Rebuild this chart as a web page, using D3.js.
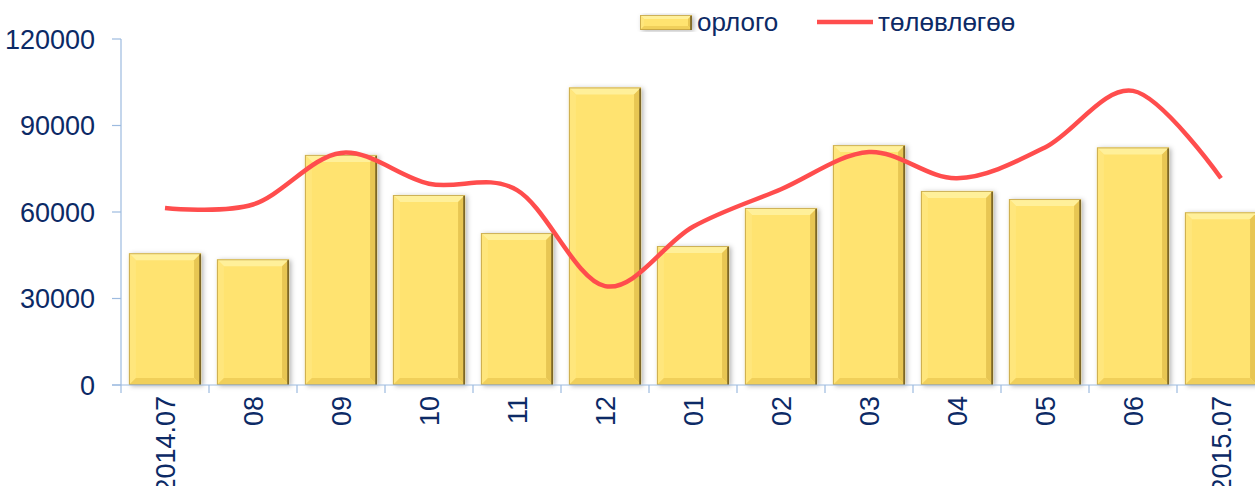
<!DOCTYPE html>
<html>
<head>
<meta charset="utf-8">
<script src="https://cdn.jsdelivr.net/npm/d3@7"></script>
<style>
  html, body { margin: 0; padding: 0; background: #fff; overflow: hidden; }
  svg { display: block; }
  text { font-family: "Liberation Sans", Arial, sans-serif; fill: #0c2a66; }
</style>
</head>
<body>
<svg id="chart" width="1255" height="486"></svg>
<script>
// categories (months)
var months = ['2014.07', '08', '09', '10', '11', '12', '01', '02', '03', '04', '05', '06', '2015.07'];
// орлого (bars)
var orlogo = [45700, 43600, 79800, 65900, 52700, 103200, 48200, 61400, 83200, 67300, 64500, 82400, 59900];
// төлөвлөгөө (line)
var tolovlogoo = [61400, 62600, 80500, 69800, 67600, 34300, 54900, 67900, 80800, 71700, 82400, 102000, 71700];
var yTicks = [0, 30000, 60000, 90000, 120000];
var legendNames = ['орлого', 'төлөвлөгөө'];

var svg = d3.select('#chart');
var plotLeft = 121, plotTop = 39, plotBottom = 385, plotRight = 1265;

var x = d3.scaleBand().domain(months).range([plotLeft, plotRight]).paddingInner(0.18).paddingOuter(0.09);
var y = d3.scaleLinear().domain([0, 120000]).range([plotBottom, plotTop]);
var step = x.step();

// shadow filter for bars
var defs = svg.append('defs');
var f = defs.append('filter').attr('id', 'shadow').attr('x', '-20%').attr('y', '-10%').attr('width', '140%').attr('height', '120%');
f.append('feDropShadow').attr('dx', 2).attr('dy', 1).attr('stdDeviation', 2.5)
  .attr('flood-color', '#000').attr('flood-opacity', 0.3);

// bevelled bar, drawn into a group
function bevelBar(g, x0, y0, w, h, b){
  g.append('rect').attr('x', x0).attr('y', y0).attr('width', w).attr('height', h)
    .attr('fill', '#ffe36f').attr('filter', 'url(#shadow)');
  // top
  g.append('polygon').attr('points', [[x0, y0], [x0 + w, y0], [x0 + w - b, y0 + b], [x0 + b, y0 + b]].join(' '))
    .attr('fill', '#fff09a');
  // left
  g.append('polygon').attr('points', [[x0, y0], [x0 + b, y0 + b], [x0 + b, y0 + h - b], [x0, y0 + h]].join(' '))
    .attr('fill', '#ffe67c');
  // right
  g.append('polygon').attr('points', [[x0 + w, y0], [x0 + w, y0 + h], [x0 + w - b, y0 + h - b], [x0 + w - b, y0 + b]].join(' '))
    .attr('fill', '#e8c653');
  // bottom
  g.append('polygon').attr('points', [[x0, y0 + h], [x0 + w, y0 + h], [x0 + w - b, y0 + h - b], [x0 + b, y0 + h - b]].join(' '))
    .attr('fill', '#f0cf5a');
  g.append('rect').attr('x', x0 + 0.5).attr('y', y0 + 0.5).attr('width', w - 1).attr('height', h - 1)
    .attr('fill', 'none').attr('stroke', '#b8953a').attr('stroke-width', 1).attr('stroke-opacity', 0.7);
  g.append('line').attr('x1', x0 + w - 1).attr('x2', x0 + w - 1).attr('y1', y0 + 1).attr('y2', y0 + h)
    .attr('stroke', '#6e5a20').attr('stroke-width', 1.5);
}

// bars
var barG = svg.append('g');
months.forEach(function(m, i){
  var g = barG.append('g');
  bevelBar(g, x(m), y(orlogo[i]), x.bandwidth(), plotBottom - y(orlogo[i]), 7);
});

// axes
var axisColor = '#9dbbe0';
svg.append('line').attr('x1', plotLeft).attr('x2', plotLeft).attr('y1', plotTop).attr('y2', plotBottom)
  .attr('stroke', axisColor).attr('stroke-width', 1.2);
svg.append('line').attr('x1', plotLeft - 9).attr('x2', plotRight).attr('y1', plotBottom).attr('y2', plotBottom)
  .attr('stroke', axisColor).attr('stroke-width', 1.2);

svg.append('g').selectAll('line').data(yTicks).join('line')
  .attr('x1', plotLeft - 9).attr('x2', plotLeft)
  .attr('y1', function(d){ return y(d); }).attr('y2', function(d){ return y(d); })
  .attr('stroke', axisColor).attr('stroke-width', 1.2);

svg.append('g').selectAll('text').data(yTicks).join('text')
  .attr('x', 95).attr('y', function(d){ return y(d); })
  .attr('dy', '0.36em').attr('text-anchor', 'end')
  .style('font-size', '27px')
  .text(function(d){ return d; });

// x ticks at band boundaries
svg.append('g').selectAll('line').data(months).join('line')
  .attr('x1', function(d){ return x(d) - step * 0.09; }).attr('x2', function(d){ return x(d) - step * 0.09; })
  .attr('y1', plotBottom).attr('y2', plotBottom + 8)
  .attr('stroke', axisColor).attr('stroke-width', 1.2);

svg.append('g').selectAll('text').data(months).join('text')
  .attr('transform', function(d){ return 'translate(' + (x(d) + x.bandwidth() / 2) + ',' + 396 + ') rotate(-90)'; })
  .attr('text-anchor', 'end').attr('dy', '0.36em')
  .style('font-size', '27px')
  .text(function(d){ return d; });

// line
var line = d3.line()
  .x(function(d, i){ return x(months[i]) + x.bandwidth() / 2; })
  .y(function(d){ return y(d); })
  .curve(d3.curveCardinal.tension(0));

svg.append('path').datum(tolovlogoo)
  .attr('d', line)
  .attr('fill', 'none').attr('stroke', '#ff4d4d').attr('stroke-width', 4.5)
  .attr('stroke-linecap', 'butt');

// legend
var lg = svg.append('g');
bevelBar(lg.append('g'), 640, 15, 52, 15, 4);
lg.append('text').attr('x', 697).attr('y', 31).style('font-size', '26px').text(legendNames[0]);
lg.append('line').attr('x1', 817).attr('x2', 873).attr('y1', 22).attr('y2', 22)
  .attr('stroke', '#ff4d4d').attr('stroke-width', 4.5);
lg.append('text').attr('x', 878).attr('y', 31).style('font-size', '26px').text(legendNames[1]);
</script>
</body>
</html>
